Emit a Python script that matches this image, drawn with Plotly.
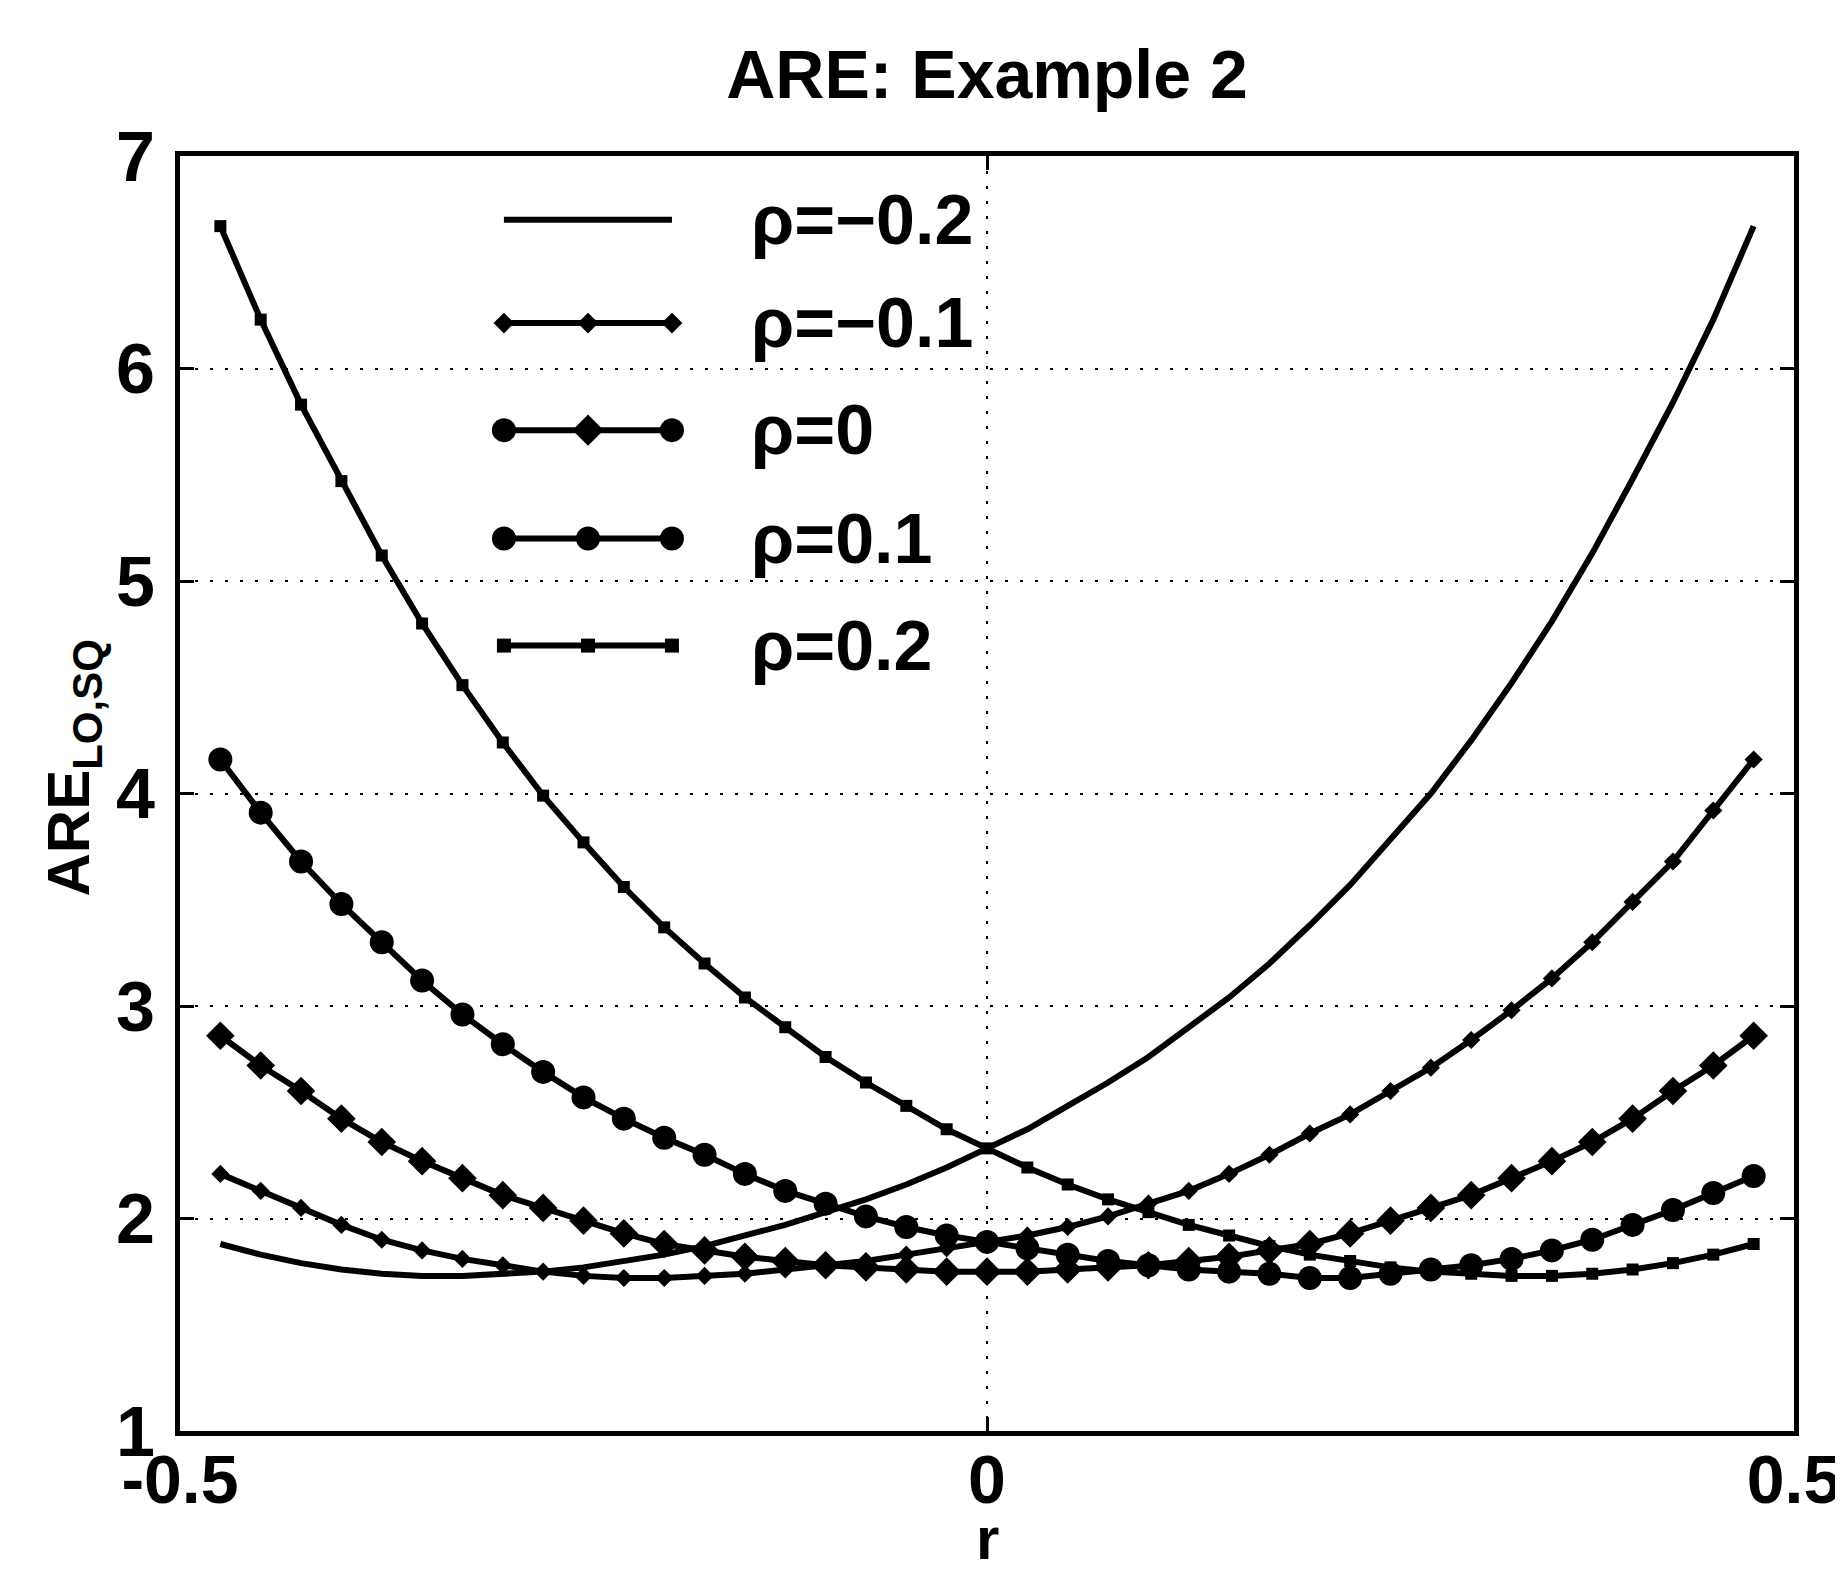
import plotly.graph_objects as go

# ---------------- data ----------------
r_values = [-0.475, -0.45, -0.425, -0.4, -0.375, -0.35, -0.325, -0.3, -0.275, -0.25,
            -0.225, -0.2, -0.175, -0.15, -0.125, -0.1, -0.075, -0.05, -0.025, 0.0,
            0.025, 0.05, 0.075, 0.1, 0.125, 0.15, 0.175, 0.2, 0.225, 0.25,
            0.275, 0.3, 0.325, 0.35, 0.375, 0.4, 0.425, 0.45, 0.475]

are_rho_m02 = [1.88, 1.83, 1.79, 1.76, 1.74, 1.73, 1.73, 1.74, 1.75, 1.77,
               1.80, 1.83, 1.87, 1.92, 1.97, 2.03, 2.09, 2.16, 2.24, 2.33,
               2.42, 2.53, 2.64, 2.76, 2.90, 3.04, 3.20, 3.38, 3.57, 3.78,
               4.00, 4.25, 4.52, 4.81, 5.13, 5.48, 5.84, 6.23, 6.67]

are_rho_m01 = [2.21, 2.13, 2.05, 1.97, 1.90, 1.85, 1.81, 1.78, 1.75, 1.73,
               1.72, 1.72, 1.73, 1.74, 1.76, 1.78, 1.80, 1.83, 1.86, 1.89,
               1.92, 1.96, 2.01, 2.07, 2.13, 2.21, 2.30, 2.40, 2.49, 2.60,
               2.71, 2.84, 2.98, 3.13, 3.30, 3.49, 3.68, 3.92, 4.16]

are_rho_0 = [2.86, 2.72, 2.60, 2.47, 2.36, 2.27, 2.19, 2.11, 2.05, 1.99,
             1.93, 1.88, 1.85, 1.82, 1.80, 1.78, 1.77, 1.76, 1.75, 1.75,
             1.75, 1.76, 1.77, 1.78, 1.80, 1.82, 1.85, 1.88, 1.93, 1.99,
             2.05, 2.11, 2.19, 2.27, 2.36, 2.47, 2.60, 2.72, 2.86]

are_rho_p01 = [4.16, 3.91, 3.68, 3.48, 3.30, 3.12, 2.96, 2.82, 2.69, 2.57,
               2.47, 2.38, 2.30, 2.21, 2.13, 2.07, 2.01, 1.96, 1.92, 1.89,
               1.86, 1.83, 1.80, 1.78, 1.76, 1.75, 1.74, 1.72, 1.72, 1.74,
               1.76, 1.78, 1.81, 1.85, 1.90, 1.97, 2.04, 2.12, 2.20]

are_rho_p02 = [6.67, 6.23, 5.83, 5.47, 5.12, 4.80, 4.51, 4.24, 3.99, 3.77,
               3.56, 3.37, 3.20, 3.04, 2.90, 2.76, 2.64, 2.53, 2.42, 2.33,
               2.24, 2.16, 2.09, 2.03, 1.97, 1.92, 1.87, 1.83, 1.80, 1.77,
               1.75, 1.74, 1.73, 1.73, 1.74, 1.76, 1.79, 1.83, 1.88]

series_labels = ["ρ=−0.2", "ρ=−0.1", "ρ=0", "ρ=0.1", "ρ=0.2"]
series_values = [are_rho_m02, are_rho_m01, are_rho_0, are_rho_p01, are_rho_p02]

x_tick_values = [-0.5, 0.0, 0.5]
x_tick_labels = ["-0.5", "0", "0.5"]
y_tick_values = [1, 2, 3, 4, 5, 6, 7]
y_tick_labels = ["1", "2", "3", "4", "5", "6", "7"]

title_text = "ARE: Example 2"
x_title = "r"
y_title = "ARE<sub>LO,SQ</sub>"

# ---------------- styles ----------------
FONT = "Liberation Sans, Arial, Helvetica, sans-serif"
INK = "black"
LINE_W = 6

series_styles = [
    dict(mode="lines", symbol=None, size=0),
    dict(mode="lines+markers", symbol="diamond", size=14),
    dict(mode="lines+markers", symbol="diamond", size=22),
    dict(mode="lines+markers", symbol="circle", size=24),
    dict(mode="lines+markers", symbol="square", size=12),
]

# legend sample layout (fractions of the plot area)
legend_x = [0.2007, 0.2528, 0.3048]
legend_text_x = 0.3525
legend_rows = [0.950, 0.869, 0.785, 0.700, 0.616]
legend_symbols = [
    None,
    ["diamond", "diamond", "diamond"],
    ["circle", "diamond", "circle"],
    ["circle", "circle", "circle"],
    ["square", "square", "square"],
]
legend_sizes = [0, 16, 24, 24, 14]

fig = go.Figure()

for label, vals, st in zip(series_labels, series_values, series_styles):
    kw = dict(x=r_values, y=vals, name=label, mode=st["mode"],
              line=dict(color=INK, width=LINE_W), showlegend=False,
              xaxis="x", yaxis="y")
    if st["symbol"]:
        kw["marker"] = dict(symbol=st["symbol"], size=st["size"], color=INK,
                            line=dict(width=0))
    fig.add_trace(go.Scatter(**kw))

# custom legend drawn on an overlay axis (0..1 of the plot area)
for i, label in enumerate(series_labels):
    ly = legend_rows[i]
    kw = dict(x=legend_x, y=[ly] * 3, mode="lines", showlegend=False,
              line=dict(color=INK, width=LINE_W), xaxis="x2", yaxis="y2",
              hoverinfo="skip")
    if legend_symbols[i]:
        kw["mode"] = "lines+markers"
        kw["marker"] = dict(symbol=legend_symbols[i], size=legend_sizes[i],
                            color=INK, line=dict(width=0))
    fig.add_trace(go.Scatter(**kw))
    fig.add_annotation(x=legend_text_x, y=ly, xref="x2", yref="y2",
                       text=label, showarrow=False, xanchor="left",
                       yanchor="middle",
                       font=dict(family=FONT, size=70, color=INK, weight="bold"))

def axis_style(standoff, size):
    return dict(
        showline=True, linecolor=INK, linewidth=5, mirror="ticks",
        ticks="inside", ticklen=14, tickwidth=3, tickcolor=INK,
        showgrid=True, gridcolor=INK, gridwidth=1.5, griddash="3px,12px",
        zeroline=False, ticklabelstandoff=standoff,
        tickfont=dict(family=FONT, size=size, color=INK, weight="bold"),
    )

fig.update_layout(
    width=1843, height=1570,
    paper_bgcolor="white", plot_bgcolor="white",
    margin=dict(l=172, r=57, t=148, b=147, autoexpand=False),
    title=dict(text=title_text, x=0.5, xref="paper", xanchor="center",
               y=1 - 66 / 1570, yref="container", yanchor="middle",
               font=dict(family=FONT, size=68, color=INK, weight="bold")),
    xaxis=dict(range=[-0.5, 0.5], tickvals=x_tick_values, ticktext=x_tick_labels,
               **axis_style(-15, 68)),
    yaxis=dict(range=[1, 7], tickvals=y_tick_values, ticktext=y_tick_labels,
               **axis_style(6, 70)),
    xaxis2=dict(overlaying="x", range=[0, 1], visible=False),
    yaxis2=dict(overlaying="y", range=[0, 1], visible=False),
    showlegend=False,
)

# axis titles as annotations for precise placement
fig.add_annotation(x=0.5, y=-0.1125, xref="paper", yref="paper", text=x_title,
                   showarrow=False, xanchor="center", yanchor="bottom",
                   font=dict(family=FONT, size=60, color=INK, weight="bold"))
fig.add_annotation(x=-0.066, y=0.52, xref="paper", yref="paper", text=y_title,
                   showarrow=False, textangle=-90, xanchor="center", yanchor="middle",
                   font=dict(family=FONT, size=60, color=INK, weight="bold"))

fig.write_html("out.html")
